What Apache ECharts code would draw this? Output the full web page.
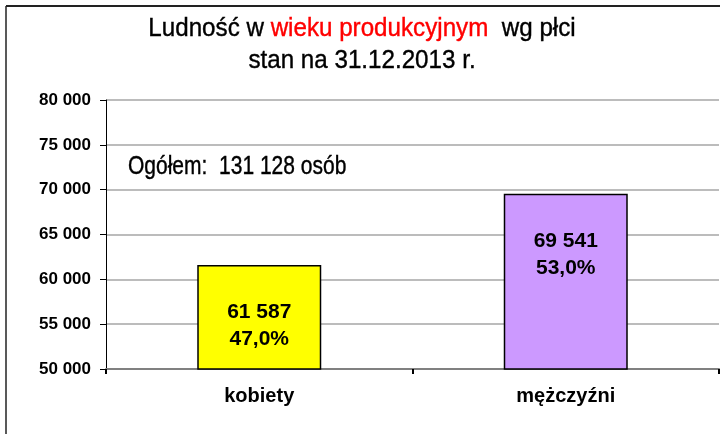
<!DOCTYPE html>
<html>
<head>
<meta charset="utf-8">
<title>Ludność w wieku produkcyjnym wg płci</title>
<script src="https://cdn.jsdelivr.net/npm/echarts@6/dist/echarts.min.js"></script>
<style>
  html, body { margin: 0; padding: 0; background: #fff; }
  #chart { width: 720px; height: 434px; }
</style>
</head>
<body>
<div id="chart"></div>
<script>
  var categories = ['kobiety', 'mężczyźni'];
  var values = [61587, 69541];
  var percents = ['47,0%', '53,0%'];
  var barColors = ['#ffff00', '#cc99ff'];
  var yTicks = [50000, 55000, 60000, 65000, 70000, 75000, 80000];

  var font = "'Liberation Sans', Arial, sans-serif";

  // 61587 -> "61 587"
  function fmt(v) {
    return String(v).replace(/\B(?=(\d{3})+(?!\d))/g, ' ');
  }

  var total = values.reduce(function (a, b) { return a + b; }, 0);

  var myChart = echarts.init(document.getElementById('chart'));
  var option = {
    animation: false,
    backgroundColor: '#fff',
    grid: {
      left: 106,
      right: 1,
      top: 100,
      bottom: 65
    },
    xAxis: {
      type: 'category',
      data: categories,
      axisLine: { lineStyle: { color: '#808080', width: 2 } },
      axisTick: { show: true, length: 5, lineStyle: { color: '#000', width: 2 } },
      axisLabel: {
        margin: 17,
        color: '#000',
        fontSize: 20,
        fontWeight: 'bold',
        fontFamily: font
      }
    },
    yAxis: {
      type: 'value',
      min: yTicks[0],
      max: yTicks[yTicks.length - 1],
      interval: yTicks[1] - yTicks[0],
      axisLine: { show: true, lineStyle: { color: '#000', width: 1 } },
      axisTick: { show: true, length: 6, lineStyle: { color: '#000' } },
      splitLine: { lineStyle: { color: '#a6a6a6', width: 1.5 } },
      axisLabel: {
        margin: 15,
        color: '#000',
        fontSize: 17,
        fontWeight: 'bold',
        fontFamily: font,
        formatter: function (v) { return fmt(v); }
      }
    },
    series: [
      {
        type: 'bar',
        barWidth: 124,
        data: values.map(function (v, i) {
          return {
            value: v,
            itemStyle: { color: barColors[i] }
          };
        }),
        itemStyle: { borderColor: '#000', borderWidth: 1.5 },
        label: {
          show: true,
          position: 'insideTop',
          distance: 34,
          color: '#000',
          fontSize: 21,
          fontWeight: 'bold',
          fontFamily: font,
          lineHeight: 27,
          formatter: function (p) {
            return fmt(p.value) + '\n' + percents[p.dataIndex];
          }
        }
      }
    ],
    graphic: [
      // tytuł (lekko zwężony jak w oryginale)
      {
        type: 'text',
        x: 362,
        y: 13,
        scaleX: 0.93,
        style: {
          text: '{b|Ludność w }{r|wieku produkcyjnym}{b|  wg płci}\n{b|stan na 31.12.2013 r.}',
          align: 'center',
          verticalAlign: 'top',
          rich: {
            b: { fill: '#000', fontSize: 26, fontFamily: font, lineHeight: 32, stroke: '#000', lineWidth: 0.4 },
            r: { fill: '#ff0000', fontSize: 26, fontFamily: font, lineHeight: 32, stroke: '#ff0000', lineWidth: 0.4 }
          }
        }
      },
      {
        type: 'text',
        x: 128,
        y: 155,
        scaleX: 0.84,
        style: {
          text: 'Ogółem:  ' + fmt(total) + ' osób',
          fill: '#000',
          fontSize: 25,
          fontFamily: font,
          stroke: '#000',
          lineWidth: 0.4
        }
      },
      // ramka wykresu
      { type: 'line', shape: { x1: 6, y1: 6, x2: 720, y2: 6 }, style: { stroke: '#222', lineWidth: 2 } },
      { type: 'line', shape: { x1: 6, y1: 6, x2: 6, y2: 434 }, style: { stroke: '#222', lineWidth: 1.5 } }
    ]
  };
  myChart.setOption(option, true);
</script>
</body>
</html>
